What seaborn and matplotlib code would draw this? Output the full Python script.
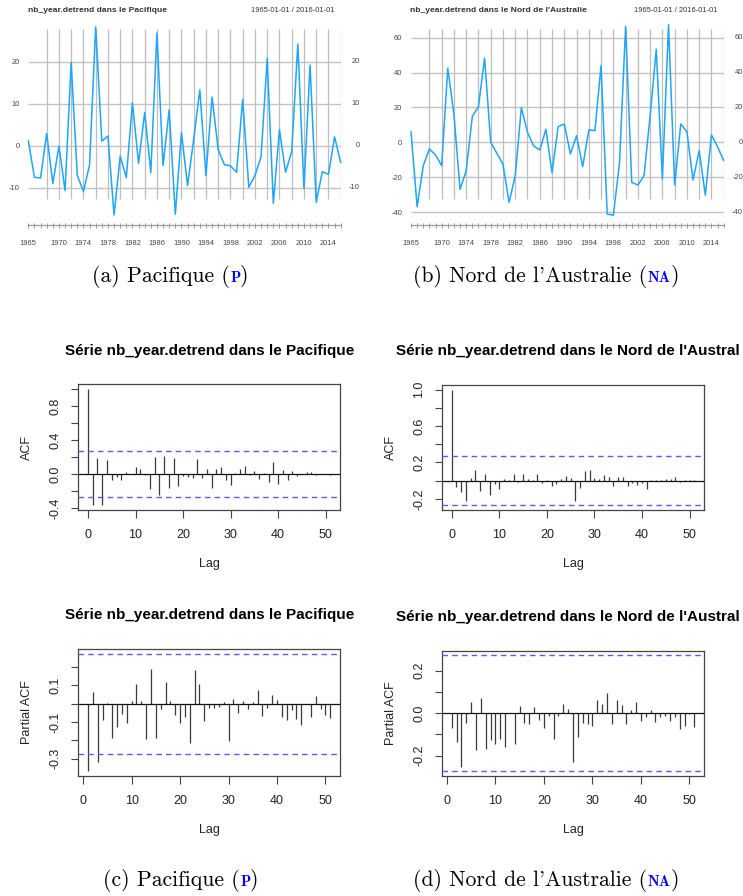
import numpy as np
import pandas as pd
import matplotlib
matplotlib.use("Agg")
import matplotlib.pyplot as plt
import matplotlib.transforms as mtrans
import seaborn as sns

# ---------------- data ----------------
years = list(range(1965, 2017))
pacifique = [1.2, -7.5, -7.7, 2.9, -9.0, -0.1, -10.7, 19.8, -7.1, -10.9,
             -4.6, 28.3, 1.1, 2.3, -16.5, -2.5, -7.6, 10.2, -4.2, 7.9,
             -6.4, 26.8, -4.7, 8.5, -16.3, 3.1, -9.5, 1.5, 13.3, -7.1,
             11.6, -0.9, -4.5, -4.8, -6.3, 11.0, -9.9, -7.1, -2.6, 20.8,
             -13.7, 3.8, -6.3, -1.4, 24.2, -10.2, 19.2, -13.5, -6.2, -6.8,
             2.1, -4.0]
nord_australie = [6.1, -37.0, -13.4, -3.8, -7.3, -13.4, 42.5, 16.1, -27.0, -16.3,
                  14.8, 20.5, 48.3, 0.0, -6.3, -12.6, -34.5, -19.2, 19.9, 5.7,
                  -2.1, -4.4, 7.5, -17.4, 9.0, 10.5, -6.7, 3.8, -14.0, 7.1,
                  6.7, 44.1, -41.2, -41.8, -12.1, 66.5, -23.0, -24.5, -19.3, 15.0,
                  53.4, -21.1, 67.4, -24.5, 10.5, 6.1, -21.6, -4.8, -30.3, 4.2,
                  -2.5, -10.5]

acf_lags = list(range(0, 52))
acf_p = [1.0, -0.37, 0.19, -0.37, 0.17, -0.075, -0.035, -0.067, 0.02, 0.005,
         0.08, 0.063, -0.015, -0.173, 0.197, -0.244, 0.217, -0.161, 0.193, -0.146,
         -0.028, -0.031, -0.047, 0.181, -0.047, 0.063, -0.161, 0.059, 0.087, -0.071,
         -0.134, 0.012, 0.059, 0.098, -0.016, 0.039, -0.055, 0.012, -0.098, 0.138,
         -0.114, 0.051, -0.071, 0.039, -0.028, 0.003, 0.024, 0.024, -0.008, 0.002,
         -0.004, -0.008]
acf_na = [1.0, -0.066, -0.128, -0.227, 0.026, 0.117, -0.117, 0.073, -0.161, -0.033,
          -0.092, 0.018, 0.007, 0.07, -0.018, 0.07, 0.018, 0.007, 0.073, -0.026,
          0.007, -0.055, -0.04, 0.018, 0.048, 0.033, -0.227, -0.081, 0.106, 0.114,
          0.033, 0.018, 0.062, 0.037, -0.062, 0.037, 0.044, -0.055, -0.026, -0.048,
          -0.026, -0.092, 0.011, 0.011, 0.011, 0.015, 0.015, 0.037, -0.015, 0.007,
          0.011, 0.004]
pacf_lags = list(range(1, 52))
pacf_p = [-0.369, 0.062, -0.321, -0.088, 0.004, -0.185, -0.13, -0.059, -0.105, 0.013,
          0.106, 0.015, -0.194, 0.191, -0.185, -0.028, 0.119, 0.015, -0.062, -0.105,
          -0.073, -0.217, 0.185, 0.105, -0.094, -0.026, -0.022, -0.018, 0.007, -0.202,
          0.026, -0.053, 0.015, -0.028, 0.011, 0.072, -0.07, -0.026, 0.048, 0.017,
          -0.073, -0.092, -0.033, -0.083, -0.117, 0.0, -0.073, 0.04, -0.028, -0.061,
          -0.081]
pacf_na = [-0.069, -0.136, -0.253, -0.047, 0.052, -0.175, 0.07, -0.167, -0.128, -0.147,
           -0.12, -0.159, 0.002, -0.144, 0.036, -0.047, -0.053, 0.03, -0.031, -0.069,
           -0.014, -0.123, -0.011, 0.041, 0.02, -0.231, -0.113, -0.047, -0.053, -0.059,
           0.063, 0.045, 0.094, -0.053, 0.061, 0.038, -0.05, 0.013, 0.052, -0.038,
           -0.019, 0.017, -0.042, -0.019, -0.011, -0.038, -0.019, -0.075, -0.061, -0.006,
           -0.063]
conf_limit = 0.272

ts_title_p = "nb_year.detrend dans le Pacifique"
ts_title_na = "nb_year.detrend dans le Nord de l'Australie"
date_range = "1965-01-01 / 2016-01-01"
r_title_p = "Série nb_year.detrend dans le Pacifique"
# the reference shows this title cut at the right edge of the figure
r_title_na = "Série nb_year.detrend dans le Nord de l'Austral"
ts_year_labels = [1965, 1970, 1974, 1978, 1982, 1986, 1990, 1994, 1998, 2002, 2006, 2010, 2014]
ts_grid_years = list(range(1968, 2017, 2))
yt_p = [-10, 0, 10, 20]
yt_na = [-40, -20, 0, 20, 40, 60]
lag_ticks = [0, 10, 20, 30, 40, 50]
captions = [("(a) Pacifique (", "P", ")"), ("(b) Nord de l'Australie (", "NA", ")"),
            ("(c) Pacifique (", "P", ")"), ("(d) Nord de l'Australie (", "NA", ")")]

# ---------------- setup ----------------
sns.set_theme(style="white")
plt.rcParams['font.family'] = ['Liberation Sans', 'DejaVu Sans']
plt.rcParams['axes.unicode_minus'] = False

W, H = 743, 896
fig = plt.figure(figsize=(W / 100, H / 100), dpi=100)


def add_ax(l, t, r, b):
    return fig.add_axes([l / W, 1 - b / H, (r - l) / W, (b - t) / H])


def fx(px):
    return px / W


def fy(py):
    return 1 - py / H


LINE = '#1DA6FA'
GRID = '#bdbdbd'
TS_FS = 5.4


def ts_panel(l, r, zero_px, px_unit, values, yticks, title):
    top, bottom = 18, 225
    ax = add_ax(l, top, r, bottom)
    ax.set_xlim(years[0], years[-1])
    ax.set_ylim(-(bottom - zero_px) / px_unit, (zero_px - top) / px_unit)
    vlo, vhi = -(199 - zero_px) / px_unit, (zero_px - 29) / px_unit
    ax.vlines(ts_grid_years, vlo, vhi, color=GRID, lw=0.9, zorder=1)
    ax.hlines(yticks, years[0], years[-1], color='#c4c4c4', lw=1.0, zorder=1)
    df = pd.DataFrame({'year': years, 'v': values})
    sns.lineplot(data=df, x='year', y='v', ax=ax, color=LINE, lw=1.1, zorder=3)
    for ln in ax.lines:
        ln.set_clip_on(False)
    ax.set_xlabel('')
    ax.set_ylabel('')
    for s in ['top', 'left', 'right']:
        ax.spines[s].set_visible(False)
    ax.spines['bottom'].set_color('#9a9a9a')
    ax.spines['bottom'].set_linewidth(0.9)
    ax.set_xticks(ts_year_labels)
    ax.set_xticklabels([str(y) for y in ts_year_labels])
    ax.set_xticks(years, minor=True)
    ax.tick_params(axis='x', which='both', direction='inout', length=3.6, width=0.7,
                   color='#9a9a9a', bottom=True, labelsize=TS_FS, labelcolor='#444444', pad=9.0)
    ax.set_yticks(yticks)
    ax.set_yticklabels([str(v) for v in yticks])
    ax.tick_params(axis='y', length=0, labelsize=TS_FS, labelcolor='#444444', pad=6.3)
    tr = mtrans.blended_transform_factory(fig.transFigure, ax.transData)
    for v in yticks:
        ax.text(fx(r + 19.3), v, str(v), transform=tr, ha='right', va='center',
                fontsize=TS_FS, color='#444444')
    fig.text(fx(l - 0.5), fy(11), title, ha='left', va='center', fontsize=6.1,
             fontweight='bold', color='#333333')
    fig.text(fx(r - 6), fy(11), date_range, ha='right', va='center', fontsize=5.45,
             color='#333333')
    return ax


ts_panel(28.3, 340.7, 145.7, 4.2, pacifique, yt_p, ts_title_p)
ts_panel(411.0, 723.7, 142.3, 1.743, nord_australie, yt_na, ts_title_na)


def r_panel(l, t, r, b, lags, vals, title, ylabel, yticks, ylabels, title_left=None):
    ax = add_ax(l, t, r, b)
    ax.set_facecolor('white')
    ax.vlines(lags, 0, vals, color='#3a3a3a', lw=0.9, zorder=2)
    ax.axhline(0, color='#111111', lw=0.9, zorder=3)
    for c in (conf_limit, -conf_limit):
        ax.axhline(c, color='#5a5aff', lw=1.0, linestyle=(0, (4, 3)), zorder=3)
    lo, hi = min(min(vals), -conf_limit), max(max(vals), conf_limit)
    d = (hi - lo) * 0.04
    ax.set_ylim(lo - d, hi + d)
    xl, xh = min(lags), max(lags)
    dx = (xh - xl) * 0.04
    ax.set_xlim(xl - dx, xh + dx)
    for s in ax.spines.values():
        s.set_visible(True)
        s.set_color('#444444')
        s.set_linewidth(0.9)
    ax.set_xticks(lag_ticks)
    ax.set_xticklabels([str(v) for v in lag_ticks])
    ax.set_yticks(yticks)
    ax.set_yticklabels(ylabels)
    ax.tick_params(axis='both', which='major', direction='out', length=5.4, width=0.8,
                   color='#444444', labelsize=9, labelcolor='#222222', bottom=True, left=True)
    ax.tick_params(axis='x', pad=8.4)
    ax.tick_params(axis='y', pad=6.5, labelrotation=90)
    for lab in ax.get_yticklabels():
        lab.set_va('center')
    ax.grid(False)
    cx = (l + r) / 2
    if title_left is None:
        fig.text(fx(cx), fy(t - 34), title, ha='center', va='center', fontsize=11,
                 fontweight='bold', color='black')
    else:
        fig.text(fx(title_left), fy(t - 34), title, ha='left', va='center', fontsize=11,
                 fontweight='bold', color='black')
    fig.text(fx(cx), fy(b + 54), 'Lag', ha='center', va='center', fontsize=9, color='#222222')
    fig.text(fx(l - 51), fy((t + b) / 2), ylabel, ha='center', va='center', rotation=90,
             fontsize=9, color='#222222')
    return ax


r_panel(78.3, 384.5, 340.0, 510.0, acf_lags, acf_p, r_title_p, 'ACF',
        [-0.4, -0.2, 0.0, 0.2, 0.4, 0.6, 0.8, 1.0],
        ['-0.4', '', '0.0', '', '0.4', '', '0.8', ''])
r_panel(442.0, 385.0, 704.0, 510.0, acf_lags, acf_na, r_title_na, 'ACF',
        [-0.2, 0.0, 0.2, 0.4, 0.6, 0.8, 1.0],
        ['-0.2', '', '0.2', '', '0.6', '', '1.0'], title_left=396)
r_panel(78.3, 649.0, 340.0, 776.0, pacf_lags, pacf_p, r_title_p, 'Partial ACF',
        [-0.3, -0.2, -0.1, 0.0, 0.1, 0.2],
        ['-0.3', '', '-0.1', '', '0.1', ''])
r_panel(442.0, 650.7, 704.0, 775.7, pacf_lags, pacf_na, r_title_na, 'Partial ACF',
        [-0.2, -0.1, 0.0, 0.1, 0.2],
        ['-0.2', '', '0.0', '', '0.2'], title_left=396)

# ---------------- captions ----------------
renderer = fig.canvas.get_renderer()


def caption(x_px, y_px, parts):
    pre, tag, post = parts
    x = x_px
    items = [(pre, dict(family=['cmr10', 'DejaVu Serif'], fontsize=15.6, color='black')),
             (tag, dict(family=['cmb10', 'DejaVu Serif'], fontsize=10.8, color='#0000ff')),
             (post, dict(family=['cmr10', 'DejaVu Serif'], fontsize=15.6, color='black'))]
    for s, kw in items:
        t = fig.text(fx(x), fy(y_px), s, ha='left', va='baseline', **kw)
        bb = t.get_window_extent(renderer)
        x += bb.width + (-0.5 if s is tag else 0.5)


caption(92, 282, captions[0])
caption(413, 282, captions[1])
caption(103, 886, captions[2])
caption(413, 886, captions[3])

fig.savefig('out.png', dpi=100, facecolor='white')
